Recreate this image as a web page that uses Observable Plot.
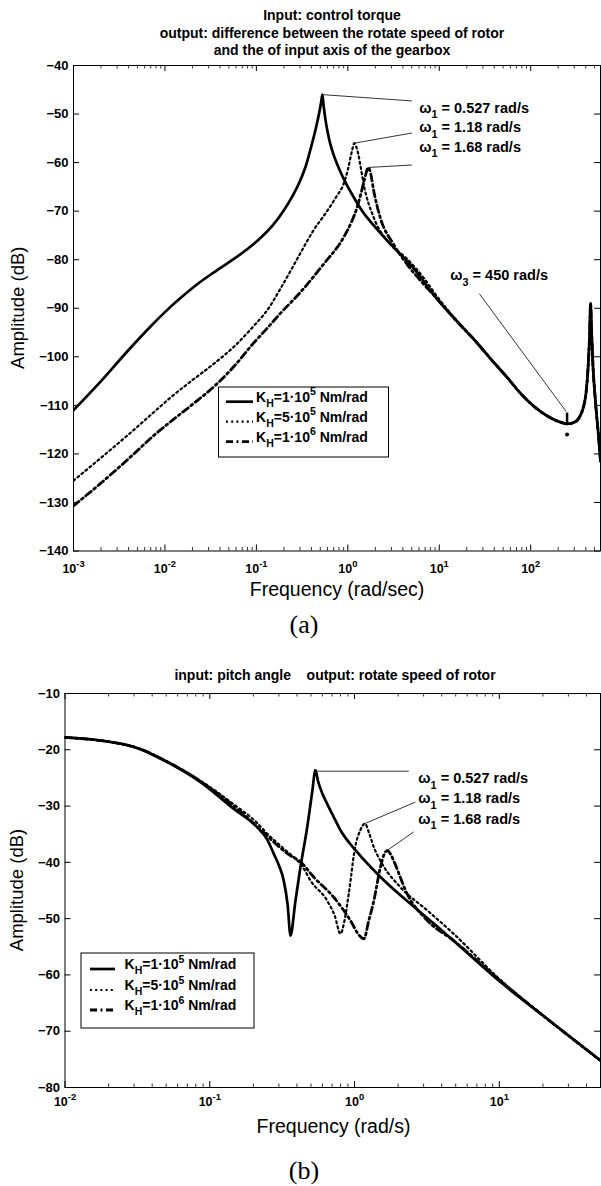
<!DOCTYPE html>
<html><head><meta charset="utf-8">
<script src="https://cdn.jsdelivr.net/npm/d3@7"></script>
<script src="https://cdn.jsdelivr.net/npm/@observablehq/plot@0.6"></script>
<style>
body{margin:0;background:#fff;}
svg{display:block;}
</style></head>
<body><div id="chart"></div>
<script>
// ---------------- Plot (a) data ----------------
const titleA = ["Input: control torque",
  "output: difference between the rotate speed of rotor",
  "and the of input axis of the gearbox"];
const xLabelA = "Frequency (rad/sec)";
const yLabel = "Amplitude (dB)";
const yTicksA = [-40, -50, -60, -70, -80, -90, -100, -110, -120, -130, -140];
const decadesA = [0.001, 0.01, 0.1, 1, 10, 100];

const freqSolidA = [0.001,0.002,0.004,0.007,0.01,0.015,0.022,0.035,0.055,0.08,0.11,0.15,0.2,0.25,0.3,0.35,0.39,0.44,0.48,0.51,0.527,0.545,0.57,0.6,0.644,0.7,0.8,0.968,1.2,1.36,2.25,3.5,5.2,9.4,15,25,38,55,78,110,152,200,252,300,340,375,402,425,440,452,462,480,500,520,550,580];
const ampSolidA  = [-111,-105,-98.6,-93.7,-90.8,-87.8,-85.2,-82.5,-80,-77.8,-75.6,-73,-69.8,-66.8,-63.8,-60.5,-57.3,-53.5,-50.3,-47.6,-46,-48.5,-51.2,-53.6,-56.2,-58.4,-61.2,-64.5,-67.6,-69.3,-74.4,-78.3,-81.7,-88,-92.3,-96.8,-100.8,-104.2,-107.6,-110.3,-112.2,-113.3,-113.8,-113.5,-112.5,-110.5,-107.6,-102,-96,-89,-94,-102,-107,-111,-116,-121.5];

const freqDotA = [0.001,0.002,0.004,0.008,0.0122,0.02,0.035,0.06,0.09,0.136,0.183,0.25,0.3,0.42,0.593,0.75,0.9,1.0,1.11,1.18,1.24,1.31,1.4,1.49,1.92,2.91,4.43,6.73,9.4,15,25,38,55,78,110,152,200,252,300,340,375,402,425,440,452,462,480,500,520,550,580];
const ampDotA  = [-125.5,-120.8,-116,-111,-108,-104.8,-101.3,-97.5,-94,-90,-86,-81.5,-78.8,-74,-70,-67,-64.4,-61.5,-57.6,-56,-56.8,-58.5,-61.5,-64.4,-71.3,-76.8,-79.8,-83.7,-87.5,-92.2,-96.8,-100.8,-104.2,-107.6,-110.3,-112.2,-113.3,-113.8,-113.5,-112.5,-110.5,-107.6,-102,-96,-89,-94,-102,-107,-111,-116,-121.5];

const freqDashA = [0.001,0.002,0.004,0.008,0.0122,0.02,0.035,0.06,0.09,0.13,0.18,0.3,0.544,0.9,1.11,1.26,1.43,1.55,1.68,1.78,1.92,2.26,3.16,4.43,6.73,9.4,15,25,38,55,78,110,152,200,252,300,340,375,402,425,440,452,462,480,500,520,550,580];
const ampDashA  = [-130.7,-126,-121,-115.8,-113,-109.8,-106,-101.5,-97.5,-94.2,-91.2,-86.8,-80.9,-75.4,-72,-69.3,-65.5,-62.8,-61,-62.3,-65.8,-71.3,-76.8,-80.9,-85,-88,-92.4,-96.8,-100.8,-104.2,-107.6,-110.3,-112.2,-113.3,-113.8,-113.5,-112.5,-110.5,-107.6,-102,-96,-89,-94,-102,-107,-111,-116,-121.5];

// annotations (a)
const annLabelsA = ["ω_{1} = 0.527 rad/s", "ω_{1} = 1.18 rad/s", "ω_{1} = 1.68 rad/s", "ω_{3} = 450 rad/s"];
const annFromFA = [0.527, 1.18, 1.68, 27.4];
const annFromDbA = [-46, -56, -61, -87];
const annToFA = [5.03, 5.03, 5.03, 245];
const annToDbA = [-47.3, -53.9, -60.5, -111.3];
const annTextFA = [6.04, 6.04, 6.04, 13.2];
const annTextDbA = [-48.8, -52.8, -56.8, -83.3];
const markerFA = [250];
const markerDbA = [-116];

// ---------------- Plot (b) data ----------------
const titleB = "input: pitch angle    output: rotate speed of rotor";
const xLabelB = "Frequency (rad/s)";
const yTicksB = [-10, -20, -30, -40, -50, -60, -70, -80];
const decadesB = [0.01, 0.1, 1, 10];

const freqSolidB = [0.01,0.0176,0.03,0.0508,0.0863,0.1466,0.2125,0.25,0.277,0.3,0.324,0.345,0.361,0.39,0.423,0.471,0.51,0.537,0.56,0.6,0.647,0.72,0.8,1.04,1.51,2.57,3.97,5.12,9.9,20,50];
const ampSolidB  = [-17.8,-18.35,-19.5,-22.2,-25.75,-30.5,-33.75,-36,-38.5,-40.5,-43.2,-47.5,-53,-47,-40.85,-33.75,-27.5,-23.6,-25.6,-27.8,-29.6,-32,-34.3,-38.15,-42.6,-47.9,-52,-54.5,-61,-67.2,-75.2];

const freqDotB = [0.01,0.03,0.0508,0.0863,0.1466,0.2125,0.249,0.3,0.35,0.402,0.45,0.495,0.647,0.73,0.8,0.85,0.912,1.01,1.1,1.18,1.26,1.36,1.55,2.07,3.17,4.84,9.9,20,50];
const ampDotB  = [-17.8,-19.5,-22.1,-25.5,-29.7,-33,-34.9,-36.8,-38.3,-39.65,-41.3,-43.2,-46.8,-49.5,-52.7,-50.5,-45.6,-37.3,-34.2,-33.1,-34.8,-37.3,-40.25,-44.4,-48.5,-52.7,-60.6,-67.2,-75.2];

const freqDashB = [0.01,0.03,0.0508,0.0863,0.1466,0.249,0.3,0.35,0.423,0.522,0.718,0.935,1.08,1.16,1.25,1.36,1.51,1.6,1.68,1.78,1.87,2.31,3.17,4.84,9.9,20,50];
const ampDashB  = [-17.8,-19.5,-22.1,-25.6,-30,-35.3,-37.2,-38.6,-39.9,-42.6,-46.2,-50.3,-53,-53.6,-50.5,-46.8,-40.85,-38.6,-37.9,-38.6,-39.8,-45.6,-50.3,-53.9,-60.8,-67.2,-75.2];

const annLabelsB = ["ω_{1} = 0.527 rad/s", "ω_{1} = 1.18 rad/s", "ω_{1} = 1.68 rad/s"];
const annFromFB = [0.537, 1.18, 1.68];
const annFromDbB = [-23.8, -33.1, -37.9];
const annToFB = [2.37, 2.63, 2.56];
const annToDbB = [-23.8, -29.3, -34.6];
const annTextFB = [2.76, 2.76, 2.76];
const annTextDbB = [-25.1, -28.7, -32.3];

const legendLabels = ["K_{H}=1·10^{5} Nm/rad", "K_{H}=5·10^{5} Nm/rad", "K_{H}=1·10^{6} Nm/rad"];

// ---------------- helpers ----------------
const FONT = "'Liberation Sans', Arial, Helvetica, sans-serif";
const STY = {
  solid: {stroke: "black", strokeWidth: 2.7},
  dot: {stroke: "black", strokeWidth: 2.2, strokeDasharray: "2,3.2"},
  dash: {stroke: "black", strokeWidth: 2.8, strokeDasharray: "7,3.5,2,3.5"}
};

function rich(el, str, size) {
  const t = d3.select(el);
  t.text(null);
  const re = /([_^])\{([^}]*)\}/g;
  const parts = [];
  let last = 0, m;
  while ((m = re.exec(str))) {
    if (m.index > last) parts.push({t: str.slice(last, m.index), s: 0});
    parts.push({t: m[2], s: m[1] === "^" ? -1 : 1});
    last = re.lastIndex;
  }
  if (last < str.length) parts.push({t: str.slice(last), s: 0});
  let cur = 0;
  for (const p of parts) {
    const target = p.s === -1 ? -0.45 * size : p.s === 1 ? 0.38 * size : 0;
    const ts = t.append("tspan").attr("dy", target - cur).text(p.t);
    if (p.s) ts.attr("font-size", size * 0.75);
    cur = target;
  }
}

function minorTicks(decades, max) {
  const out = [];
  for (const d of decades) for (let k = 2; k <= 9; k++) if (d * k <= max * 1.0001) out.push(d * k);
  return out;
}

function bode(c) {
  const H = c.height - c.mt - c.mb;
  const W = c.width - c.ml - c.mr;
  const xy = (F, A) => ({x: F, y: A});
  const marks = [
    Plot.ruleX(c.decades, {x: d => d, insetTop: H - 6, stroke: "black"}),
    Plot.ruleX(c.decades, {x: d => d, insetBottom: H - 6, stroke: "black"}),
    Plot.ruleX(c.minor, {x: d => d, insetTop: H - 3.5, stroke: "black", strokeWidth: 0.8}),
    Plot.ruleX(c.minor, {x: d => d, insetBottom: H - 3.5, stroke: "black", strokeWidth: 0.8}),
    Plot.ruleY(c.yTicks, {y: d => d, insetRight: W - 6, stroke: "black"}),
    Plot.ruleY(c.yTicks, {y: d => d, insetLeft: W - 6, stroke: "black"}),
    Plot.text(c.yTicks, {y: d => d, frameAnchor: "left", textAnchor: "end", dx: -5,
      text: d => "\u2212" + Math.abs(d), fontWeight: "bold", fontSize: 13}),
    Plot.text(c.decades, {x: d => d, frameAnchor: "bottom", dy: c.xTickDy,
      text: d => `10^{${Math.round(Math.log10(d))}}`, fontWeight: "bold", fontSize: 12.5, className: "xtl"}),
    Plot.line(c.dot[0], {...xy(c.dot[0], c.dot[1]), ...STY.dot, curve: "monotone-x", clip: true}),
    Plot.line(c.dash[0], {...xy(c.dash[0], c.dash[1]), ...STY.dash, curve: "monotone-x", clip: true}),
    Plot.line(c.solid[0], {...xy(c.solid[0], c.solid[1]), ...STY.solid, curve: "monotone-x", clip: true}),
    Plot.link(c.ann.fromF, {x1: c.ann.fromF, y1: c.ann.fromDb, x2: c.ann.toF, y2: c.ann.toDb, stroke: "black", strokeWidth: 0.8}),
    Plot.text(c.ann.labels, {x: c.ann.textF, y: c.ann.textDb, text: d => d, textAnchor: "start",
      fontWeight: "bold", fontSize: 14.5, className: "annl"}),
    Plot.frame({stroke: "black", strokeWidth: 1})
  ];
  if (c.marker) {
    marks.push(Plot.link(c.marker[0], {x1: c.marker[0], x2: c.marker[0], y1: c.marker[1].map(v => v + 4.5), y2: c.marker[1].map(v => v + 2), stroke: "black", strokeWidth: 2.5}));
    marks.push(Plot.dot(c.marker[0], {x: c.marker[0], y: c.marker[1], r: 2, fill: "black"}));
  }
  const svg = Plot.plot({
    width: c.width, height: c.height,
    marginTop: c.mt, marginBottom: c.mb, marginLeft: c.ml, marginRight: c.mr,
    x: {type: "log", domain: c.xDomain, axis: null},
    y: {domain: c.yDomain, axis: null},
    style: {fontFamily: FONT, background: "white", color: "black", overflow: "visible"},
    marks
  });
  const s = d3.select(svg);
  s.selectAll(".xtl text").each(function () { rich(this, this.textContent, 12.5); });
  s.selectAll(".annl text").each(function () { rich(this, this.textContent, 14.5); });
  const frameMidY = c.mt + H / 2;
  s.append("text").attr("transform", `translate(${c.yLabelX},${frameMidY}) rotate(-90)`)
    .attr("text-anchor", "middle").attr("dy", "0.35em").attr("font-size", 18.5)
    .attr("font-family", FONT).text(yLabel);
  s.append("text").attr("x", c.xLabelX).attr("y", c.mt + H + c.xLabelDy)
    .attr("text-anchor", "middle").attr("dy", "0.35em").attr("font-size", 19.5)
    .attr("font-family", FONT).text(c.xLabel);
  c.titles.forEach((t, i) => {
    s.append("text").attr("x", c.titleX).attr("y", c.titleY[i]).attr("text-anchor", "middle")
      .style("white-space", "pre")
      .attr("font-size", 14).attr("font-weight", "bold").attr("font-family", FONT).text(t);
  });
  s.append("text").attr("x", 304).attr("y", c.mt + H + c.captionDy).attr("text-anchor", "middle")
    .attr("dy", "0.35em").attr("font-size", 26).attr("font-family", "'Liberation Serif', 'Times New Roman', serif")
    .text(c.caption);
  // legend
  const L = c.legend;
  const g = s.append("g").attr("text-anchor", "start");
  g.append("rect").attr("x", L.x).attr("y", L.y).attr("width", L.w).attr("height", L.h)
    .attr("fill", "white").attr("stroke", "black").attr("stroke-width", 1);
  const styles = [STY.solid, STY.dot, STY.dash];
  legendLabels.forEach((lab, i) => {
    const yy = L.y + L.rowY[i];
    const st = styles[i];
    g.append("line").attr("x1", L.sx1).attr("x2", L.sx2).attr("y1", yy).attr("y2", yy)
      .attr("stroke", "black").attr("stroke-width", st.strokeWidth)
      .attr("stroke-dasharray", st.strokeDasharray || null);
    const t = g.append("text").attr("x", L.tx).attr("y", yy).attr("dy", "0.35em")
      .attr("text-anchor", "start")
      .attr("font-size", 14).attr("font-weight", "bold").attr("font-family", FONT);
    rich(t.node(), lab, 14);
  });
  return svg;
}

const root = document.getElementById("chart");
root.appendChild(bode({
  width: 601, height: 645, mt: 65, mb: 94.5, ml: 73, mr: 1,
  xDomain: [0.001, 580], yDomain: [-140, -40],
  decades: decadesA, minor: minorTicks(decadesA, 580), yTicks: yTicksA,
  solid: [freqSolidA, ampSolidA], dot: [freqDotA, ampDotA], dash: [freqDashA, ampDashA],
  ann: {labels: annLabelsA, fromF: annFromFA, fromDb: annFromDbA, toF: annToFA, toDb: annToDbA, textF: annTextFA, textDb: annTextDbA},
  marker: [markerFA, markerDbA],
  xTickDy: 22, xLabel: xLabelA, xLabelX: 337, xLabelDy: 39, yLabelX: 18,
  titles: titleA, titleX: 332, titleY: [20, 37.5, 55],
  caption: "(a)", captionDy: 73,
  legend: {x: 218.5, y: 387, w: 170, h: 70, rowY: [14.7, 34.7, 54.7], sx1: 226, sx2: 253, tx: 256}
}));
root.appendChild(bode({
  width: 601, height: 541, mt: 48, mb: 99, ml: 64.5, mr: 1,
  xDomain: [0.01, 50], yDomain: [-80, -10],
  decades: decadesB, minor: minorTicks(decadesB, 50), yTicks: yTicksB,
  solid: [freqSolidB, ampSolidB], dot: [freqDotB, ampDotB], dash: [freqDashB, ampDashB],
  ann: {labels: annLabelsB, fromF: annFromFB, fromDb: annFromDbB, toF: annToFB, toDb: annToDbB, textF: annTextFB, textDb: annTextDbB},
  marker: null,
  xTickDy: 18, xLabel: xLabelB, xLabelX: 333.5, xLabelDy: 39, yLabelX: 17,
  titles: [titleB], titleY: [34.5], titleX: 335,
  caption: "(b)", captionDy: 83,
  legend: {x: 81, y: 308, w: 173, h: 75, rowY: [16, 37, 57], sx1: 90, sx2: 115, tx: 124.5}
}));
</script></body></html>
